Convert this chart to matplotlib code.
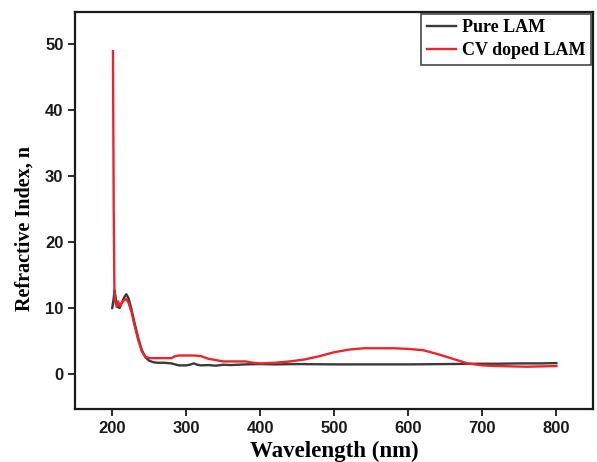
import matplotlib.pyplot as plt
import numpy as np

# wavelength (nm) and refractive index
wl_pure = [200, 202, 203, 205, 207, 210, 213, 216, 219, 222, 226, 230, 235, 240, 245, 250,
           255, 260, 270, 280, 290, 300, 305, 310, 315, 320, 330, 340, 350, 360, 380, 400,
           420, 450, 500, 550, 600, 650, 700, 720, 750, 780, 800]
n_pure = [10.0, 11.5, 12.7, 11.3, 10.2, 10.0, 10.8, 11.6, 12.1, 11.5, 9.8, 7.8, 5.5, 3.6, 2.5, 2.0,
          1.8, 1.7, 1.7, 1.6, 1.3, 1.3, 1.4, 1.6, 1.4, 1.3, 1.35, 1.25, 1.4, 1.35, 1.45, 1.5,
          1.45, 1.5, 1.45, 1.45, 1.45, 1.5, 1.55, 1.55, 1.6, 1.6, 1.65]

wl_cv = [201, 202, 203, 204, 206, 208, 210, 213, 216, 219, 222, 226, 230, 235, 240, 245,
         250, 255, 260, 270, 280, 285, 290, 300, 310, 320, 330, 340, 350, 360, 370, 380, 390,
         400, 420, 440, 460, 480, 500, 520, 540, 560, 580, 600, 620, 640, 660, 680, 700, 720,
         740, 760, 780, 800]
n_cv = [49.0, 25.0, 12.0, 11.0, 10.2, 11.0, 10.3, 10.8, 11.2, 11.4, 10.8, 9.4, 7.4, 5.2, 3.4, 2.6,
        2.4, 2.4, 2.4, 2.4, 2.4, 2.7, 2.8, 2.8, 2.8, 2.7, 2.3, 2.1, 1.9, 1.9, 1.9, 1.9, 1.7,
        1.6, 1.7, 1.9, 2.2, 2.7, 3.3, 3.7, 3.9, 3.9, 3.9, 3.8, 3.6, 3.0, 2.3, 1.6, 1.3, 1.2,
        1.15, 1.1, 1.15, 1.2]

x_ticks = [200, 300, 400, 500, 600, 700, 800]
y_ticks = [0, 10, 20, 30, 40, 50]

fig = plt.figure(figsize=(5.97, 4.62), dpi=100)
ax = fig.add_axes([0.126, 0.115, 0.868, 0.86])

ax.plot(wl_pure, n_pure, color='#3a3a3a', linewidth=1.7, label='Pure LAM')
ax.plot(wl_cv, n_cv, color='#e8262c', linewidth=1.7, label='CV doped LAM')

ax.set_xlim(150, 850)
ax.set_ylim(-5.3, 55)
ax.set_xticks(x_ticks)
ax.set_yticks(y_ticks)
for lbl in ax.get_xticklabels() + ax.get_yticklabels():
    lbl.set_fontfamily('Liberation Sans')
    lbl.set_fontweight('bold')
    lbl.set_fontsize(12)
ax.tick_params(direction='out', length=5, width=1.3, colors='#1a1a1a')
for s in ax.spines.values():
    s.set_linewidth(1.6)
    s.set_color('#1a1a1a')

ax.set_xlabel('Wavelength (nm)', fontfamily='Liberation Serif', fontweight='bold', fontsize=16.5)
ax.set_ylabel('Refractive Index, n', fontfamily='Liberation Serif', fontweight='bold', fontsize=14.5)
ax.yaxis.set_label_coords(-0.078, 0.455)

leg = ax.legend(loc='upper right', bbox_to_anchor=(0.995, 0.995), frameon=True, fancybox=False,
                borderpad=0.3, borderaxespad=0, handlelength=1.6, handletextpad=0.35,
                labelspacing=0.35,
                prop={'family': 'Liberation Serif', 'weight': 'bold', 'size': 13})
leg.get_frame().set_edgecolor('#1a1a1a')
leg.get_frame().set_linewidth(1.2)

fig.savefig('out.png', dpi=100)
